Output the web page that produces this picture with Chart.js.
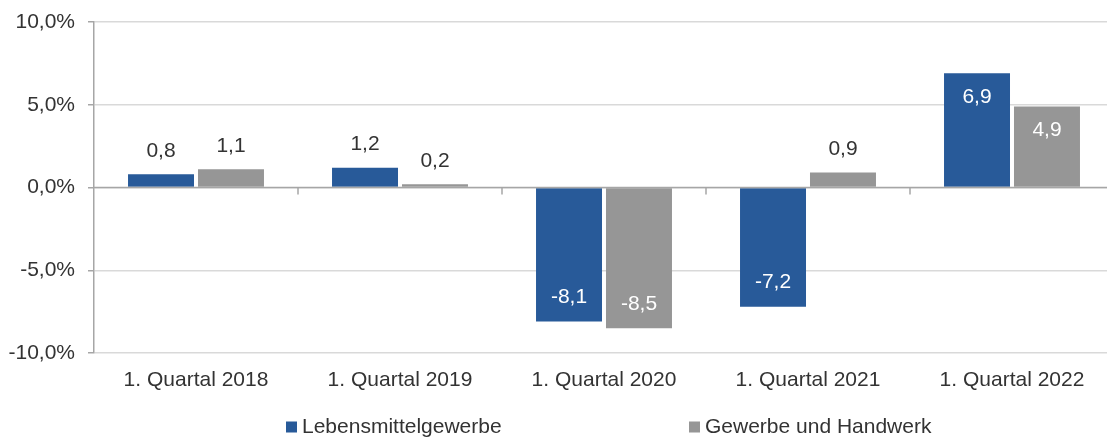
<!DOCTYPE html>
<html>
<head>
<meta charset="utf-8">
<script src="https://cdn.jsdelivr.net/npm/chart.js@4"></script>
<style>
  html, body { margin: 0; padding: 0; background: #fff; overflow: hidden; }
  #wrap { width: 1115px; height: 438px; position: relative; }
</style>
</head>
<body>
<div id="wrap"><canvas id="c" width="1115" height="438"></canvas></div>
<script>
const categories = ['1. Quartal 2018', '1. Quartal 2019', '1. Quartal 2020', '1. Quartal 2021', '1. Quartal 2022'];
const seriesNames = ['Lebensmittelgewerbe', 'Gewerbe und Handwerk'];
const lebensmittel = [0.8, 1.2, -8.1, -7.2, 6.9];
const gewerbe = [1.1, 0.2, -8.5, 0.9, 4.9];
const yTicks = [-10, -5, 0, 5, 10];
const colors = ['#285A99', '#969696'];

const FONT = "'Liberation Sans', Arial, sans-serif";
const FS = 21;
const TEXT = '#333333';

function fmt(v) { return v.toFixed(1).replace('.', ','); }

const overlay = {
  id: 'overlay',
  afterDatasetsDraw(chart) {
    const ctx = chart.ctx;
    const y = chart.scales.y, x = chart.scales.x;
    const ca = chart.chartArea;
    const y0 = y.getPixelForValue(0);
    ctx.save();
    ctx.strokeStyle = '#a6a6a6';
    ctx.lineWidth = 1.5;
    ctx.beginPath();
    ctx.moveTo(ca.left, y0);
    ctx.lineTo(ca.right, y0);
    ctx.stroke();
    const n = categories.length;
    for (let i = 1; i < n; i++) {
      const bx = (x.getPixelForValue(i - 1) + x.getPixelForValue(i)) / 2;
      ctx.beginPath();
      ctx.moveTo(bx, y0);
      ctx.lineTo(bx, y0 + 7);
      ctx.stroke();
    }
    ctx.font = FS + 'px ' + FONT;
    ctx.textAlign = 'center';
    ctx.textBaseline = 'middle';
    chart.data.datasets.forEach((ds, di) => {
      const meta = chart.getDatasetMeta(di);
      meta.data.forEach((el, i) => {
        const v = ds.data[i];
        const s = v >= 0 ? 1 : -1;
        let ly, col;
        if (Math.abs(v) >= 3) {
          ly = el.y + s * 24;
          col = '#ffffff';
        } else {
          ly = el.y - s * 23;
          col = TEXT;
        }
        ctx.fillStyle = col;
        ctx.fillText(fmt(v), el.x, ly);
      });
    });
    ctx.restore();
  },
  afterDraw(chart) {
    const ctx = chart.ctx;
    ctx.save();
    ctx.font = FS + 'px ' + FONT;
    ctx.textAlign = 'left';
    ctx.textBaseline = 'middle';
    const xs = [286, 689];
    const ly = 427;
    chart.data.datasets.forEach((ds, di) => {
      ctx.fillStyle = ds.backgroundColor;
      ctx.fillRect(xs[di], ly - 5.5, 11, 11);
      ctx.fillStyle = TEXT;
      ctx.fillText(ds.label, xs[di] + 16, ly);
    });
    ctx.restore();
  }
};

new Chart(document.getElementById('c'), {
  type: 'bar',
  data: {
    labels: categories,
    datasets: [
      { label: seriesNames[0], data: lebensmittel, backgroundColor: colors[0], borderWidth: 0 },
      { label: seriesNames[1], data: gewerbe, backgroundColor: colors[1], borderWidth: 0 }
    ]
  },
  options: {
    responsive: false,
    animation: false,
    categoryPercentage: 0.686,
    barPercentage: 0.943,
    layout: { padding: { top: 22, right: 1, left: 0, bottom: 0 } },
    plugins: {
      legend: { display: false },
      tooltip: { enabled: false }
    },
    scales: {
      x: {
        grid: { display: false },
        border: { display: false },
        ticks: { font: { family: FONT, size: FS }, color: TEXT, padding: 7, maxRotation: 0 },
        afterFit(scale) { scale.height = 85; scale.paddingLeft = 0; scale.paddingRight = 0; }
      },
      y: {
        min: -10, max: 10,
        afterBuildTicks(scale) { scale.ticks = yTicks.map(v => ({ value: v })); },
        ticks: {
          font: { family: FONT, size: FS }, color: TEXT, padding: 13,
          callback: v => fmt(v) + '%'
        },
        grid: { color: '#d9d9d9', lineWidth: 1.5, tickColor: '#a6a6a6', tickLength: 6, drawTicks: true },
        border: { display: true, color: '#a6a6a6', width: 1.5 },
        afterFit(scale) { scale.width = 94; scale.paddingTop = 0; scale.paddingBottom = 0; }
      }
    }
  },
  plugins: [overlay]
});
</script>
</body>
</html>
